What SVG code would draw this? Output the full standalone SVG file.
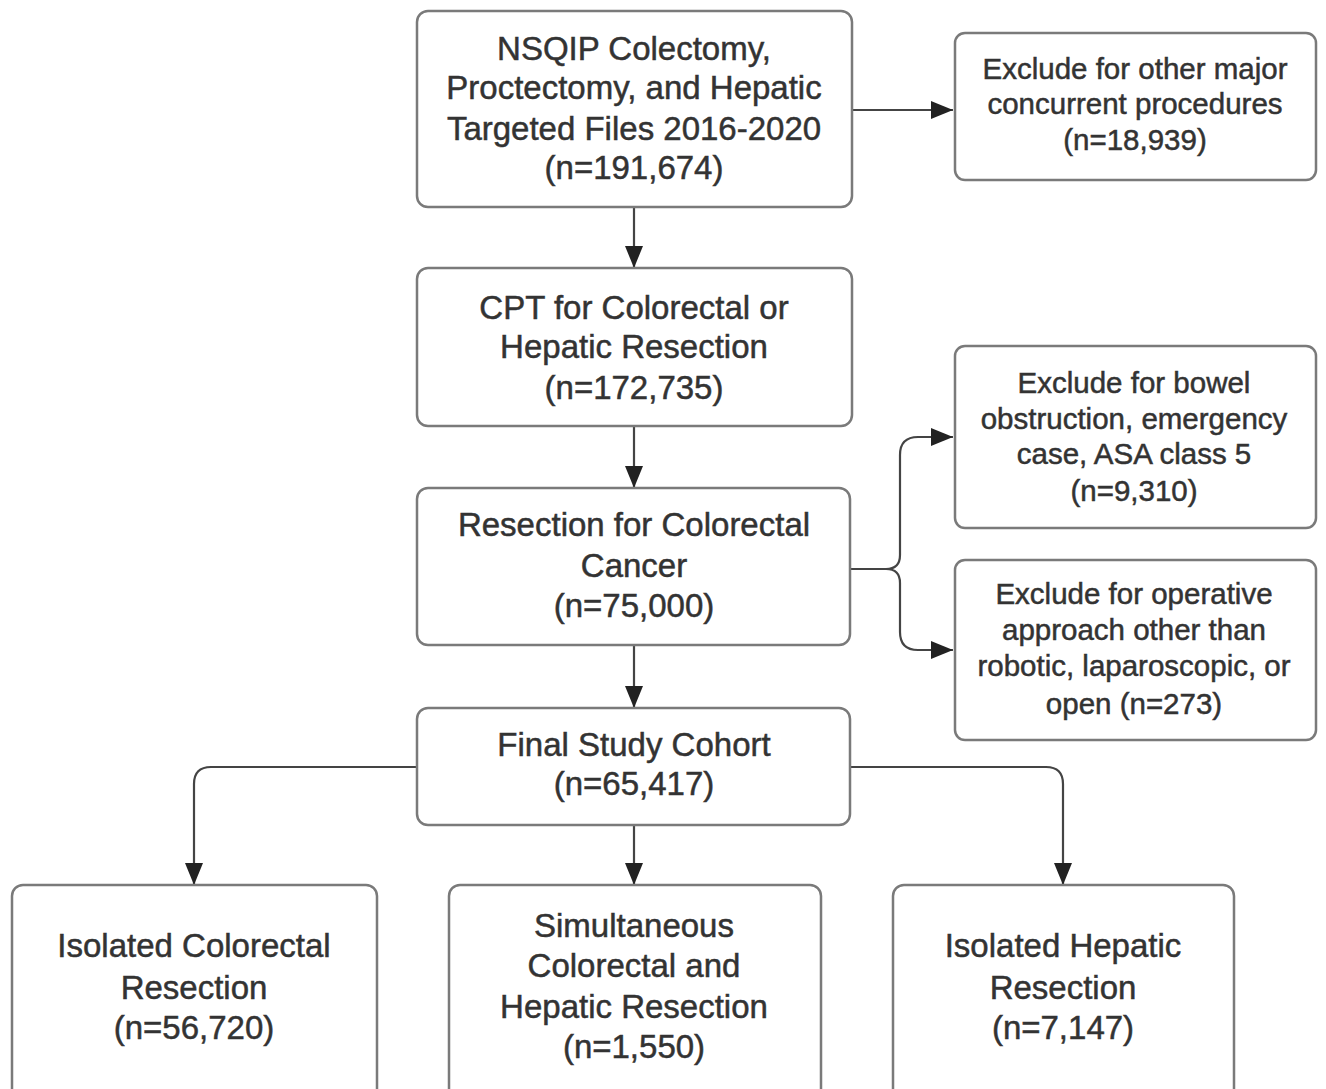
<svg xmlns="http://www.w3.org/2000/svg" width="1326" height="1089" viewBox="0 0 1326 1089">
<style>
.box{fill:#fff;stroke:#7a7a7a;stroke-width:2.5}
.t{font-family:"Liberation Sans",Arial,sans-serif;fill:#333;stroke:#333;stroke-width:0.5;text-anchor:middle;dominant-baseline:central}
.m{font-size:33px}
.s{font-size:29.5px}
.c{fill:none;stroke:#444;stroke-width:2.2}
</style>
<defs>
<marker id="ahl" viewBox="0 0 10 10" refX="10" refY="5" markerWidth="22" markerHeight="18" markerUnits="userSpaceOnUse" orient="auto" preserveAspectRatio="none">
<path d="M0,0 L10,5 L0,10 z" fill="#222"/>
</marker>
</defs>
<rect width="1326" height="1089" fill="#fff"/>
<g id="connectors">
<path class="c" d="M634,207 V268" marker-end="url(#ahl)"/>
<path class="c" d="M852,110 H953" marker-end="url(#ahl)"/>
<path class="c" d="M634,426 V488" marker-end="url(#ahl)"/>
<path class="c" d="M634,645 V708" marker-end="url(#ahl)"/>
<path class="c" d="M634,825 V885" marker-end="url(#ahl)"/>
<path class="c" d="M850,569 H886 Q900,569 900,555 V455 Q900,437 918,437 H953" marker-end="url(#ahl)"/>
<path class="c" d="M886,569 Q900,569 900,583 V632 Q900,650 918,650 H953" marker-end="url(#ahl)"/>
<path class="c" d="M417,767 H211 Q194,767 194,784 V885" marker-end="url(#ahl)"/>
<path class="c" d="M850,767 H1046 Q1063,767 1063,784 V885" marker-end="url(#ahl)"/>
</g>
<g id="n1"><rect class="box" x="417" y="11" width="435" height="196" rx="11"/>
<text class="t m"><tspan x="634" y="48">NSQIP Colectomy,</tspan><tspan x="634" y="87">Proctectomy, and Hepatic</tspan><tspan x="634" y="128">Targeted Files 2016-2020</tspan><tspan x="634" y="167">(n=191,674)</tspan></text></g>
<g id="n2"><rect class="box" x="955" y="33" width="361" height="147" rx="10"/>
<text class="t s"><tspan x="1135" y="68">Exclude for other major</tspan><tspan x="1135" y="103">concurrent procedures</tspan><tspan x="1135" y="139">(n=18,939)</tspan></text></g>
<g id="n3"><rect class="box" x="417" y="268" width="435" height="158" rx="11"/>
<text class="t m"><tspan x="634" y="307">CPT for Colorectal or</tspan><tspan x="634" y="346">Hepatic Resection</tspan><tspan x="634" y="387">(n=172,735)</tspan></text></g>
<g id="n4"><rect class="box" x="417" y="488" width="433" height="157" rx="11"/>
<text class="t m"><tspan x="634" y="524">Resection for Colorectal</tspan><tspan x="634" y="565">Cancer</tspan><tspan x="634" y="605">(n=75,000)</tspan></text></g>
<g id="n5"><rect class="box" x="955" y="346" width="361" height="182" rx="10"/>
<text class="t s"><tspan x="1134" y="382">Exclude for bowel</tspan><tspan x="1134" y="418">obstruction, emergency</tspan><tspan x="1134" y="453">case, ASA class 5</tspan><tspan x="1134" y="490">(n=9,310)</tspan></text></g>
<g id="n6"><rect class="box" x="955" y="560" width="361" height="180" rx="10"/>
<text class="t s"><tspan x="1134" y="593">Exclude for operative</tspan><tspan x="1134" y="629">approach other than</tspan><tspan x="1134" y="665">robotic, laparoscopic, or</tspan><tspan x="1134" y="703">open (n=273)</tspan></text></g>
<g id="n7"><rect class="box" x="417" y="708" width="433" height="117" rx="11"/>
<text class="t m"><tspan x="634" y="744">Final Study Cohort</tspan><tspan x="634" y="783">(n=65,417)</tspan></text></g>
<g id="n8"><rect class="box" x="12" y="885" width="365" height="220" rx="11"/>
<text class="t m"><tspan x="194" y="945">Isolated Colorectal</tspan><tspan x="194" y="987">Resection</tspan><tspan x="194" y="1027">(n=56,720)</tspan></text></g>
<g id="n9"><rect class="box" x="449" y="885" width="372" height="220" rx="11"/>
<text class="t m"><tspan x="634" y="925">Simultaneous</tspan><tspan x="634" y="965">Colorectal and</tspan><tspan x="634" y="1006">Hepatic Resection</tspan><tspan x="634" y="1046">(n=1,550)</tspan></text></g>
<g id="n10"><rect class="box" x="893" y="885" width="341" height="220" rx="11"/>
<text class="t m"><tspan x="1063" y="945">Isolated Hepatic</tspan><tspan x="1063" y="987">Resection</tspan><tspan x="1063" y="1027">(n=7,147)</tspan></text></g>
</svg>
